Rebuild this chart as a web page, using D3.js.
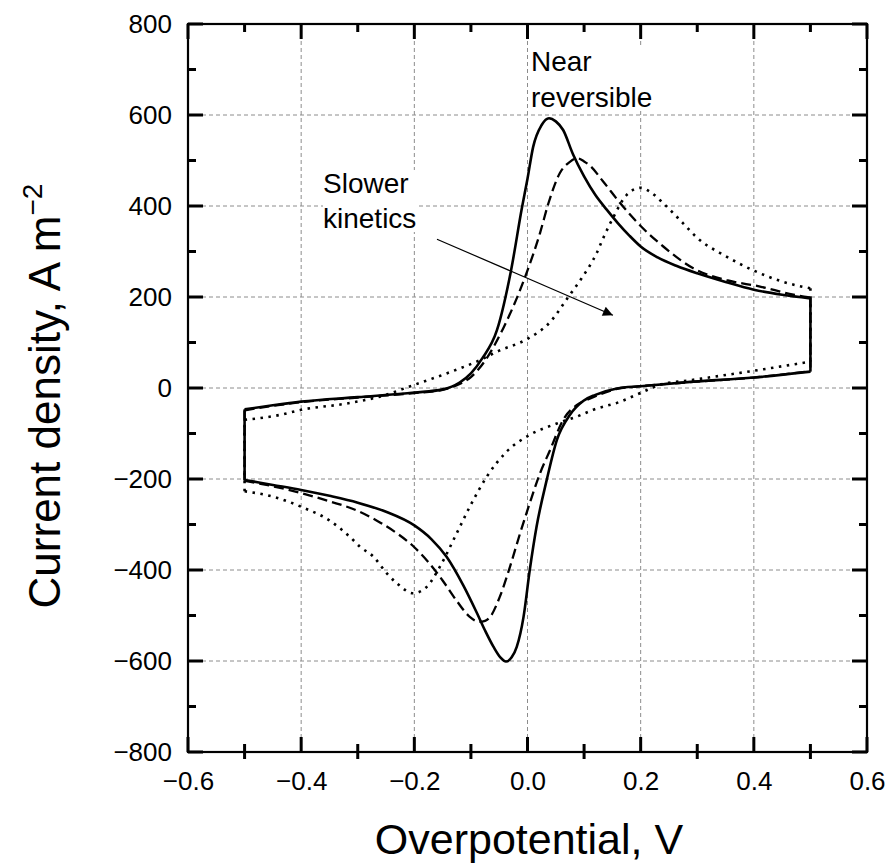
<!DOCTYPE html>
<html>
<head>
<meta charset="utf-8">
<script src="https://cdn.jsdelivr.net/npm/d3@7"></script>
<style>
  html, body { margin: 0; padding: 0; background: #fff; }
  svg { display: block; font-family: "Liberation Sans", Arial, Helvetica, sans-serif; }
</style>
</head>
<body>
<svg id="chart" width="891" height="863"></svg>
<script>
// ---------- data (overpotential V, current density A m^-2) ----------
const xMajorTicks = [-0.6, -0.4, -0.2, 0.0, 0.2, 0.4, 0.6];
const xMinorTicks = [-0.5, -0.3, -0.1, 0.1, 0.3, 0.5];
const yMajorTicks = [-800, -600, -400, -200, 0, 200, 400, 600, 800];
const yMinorTicks = [-700, -500, -300, -100, 100, 300, 500, 700];
const xTickLabels = ["\u22120.6", "\u22120.4", "\u22120.2", "0.0", "0.2", "0.4", "0.6"];
const yTickLabels = ["\u2212800", "\u2212600", "\u2212400", "\u2212200", "0", "200", "400", "600", "800"];
const xGrid = [-0.4, -0.2, 0.0, 0.2, 0.4];
const yGrid = [-600, -400, -200, 0, 200, 400, 600];

// Near reversible (solid)
const solidForward = [[-0.5,-47],[-0.45,-38],[-0.4,-30],[-0.3,-20],[-0.2,-10],[-0.15,-3],[-0.12,12],[-0.1,32],[-0.08,65],
  [-0.054,127],[-0.029,259],[-0.01,395],[0.0,460],[0.01,530],[0.025,578],[0.038,593],[0.05,586],[0.063,567],[0.08,515],
  [0.1,465],[0.12,424],[0.14,392],[0.16,362],[0.18,335],[0.2,311],[0.23,287],[0.264,268],[0.3,252],[0.35,233],
  [0.4,216],[0.45,205],[0.5,197]];
const solidReverse = [[-0.5,-202],[-0.45,-213],[-0.4,-224],[-0.35,-237],[-0.3,-252],[-0.25,-272],[-0.2,-302],
  [-0.17,-332],[-0.143,-371],[-0.113,-435],[-0.09,-493],[-0.075,-533],[-0.06,-569],[-0.048,-592],[-0.038,-601],
  [-0.028,-592],[-0.019,-569],[-0.007,-503],[0.004,-400],[0.016,-305],[0.034,-202],[0.052,-114],[0.075,-59],
  [0.099,-28],[0.12,-15],[0.158,-1],[0.2,4],[0.293,14],[0.4,23],[0.5,36]];
// Intermediate kinetics (dashed)
const dashedForward = [[-0.5,-49],[-0.4,-31],[-0.3,-21],[-0.2,-11],[-0.15,-4],[-0.12,9],[-0.1,24],[-0.075,60],[-0.043,131],
  [-0.004,245],[0.022,340],[0.037,406],[0.057,472],[0.075,497],[0.088,505],[0.1,498],[0.111,488],[0.133,455],[0.164,406],
  [0.2,356],[0.24,311],[0.293,263],[0.352,237],[0.411,223],[0.47,205],[0.5,199]];
const dashedReverse = [[-0.5,-204],[-0.45,-216],[-0.4,-231],[-0.35,-249],[-0.3,-270],[-0.26,-296],[-0.23,-320],
  [-0.2,-350],[-0.175,-383],[-0.15,-423],[-0.125,-468],[-0.102,-503],[-0.085,-514],[-0.075,-512],[-0.066,-503],
  [-0.049,-459],[-0.031,-393],[-0.013,-319],[0.004,-253],[0.022,-188],[0.04,-136],[0.063,-70],[0.09,-35],[0.111,-23],
  [0.158,-2],[0.2,4],[0.3,14],[0.4,23],[0.5,37]];
// Slower kinetics (dotted)
const dottedForward = [[-0.5,-70],[-0.437,-59],[-0.4,-48],[-0.319,-34],[-0.261,-19],[-0.2,7],[-0.143,32],[-0.09,58],
  [-0.05,82],[0.0,108],[0.04,145],[0.072,200],[0.095,240],[0.122,296],[0.134,330],[0.152,376],[0.175,424],[0.2,440],
  [0.217,431],[0.24,406],[0.275,362],[0.3,330],[0.35,290],[0.4,258],[0.45,234],[0.5,219]];
const dottedReverse = [[-0.5,-227],[-0.449,-239],[-0.4,-261],[-0.349,-292],[-0.314,-327],[-0.296,-349],[-0.272,-371],
  [-0.249,-407],[-0.231,-429],[-0.202,-451],[-0.178,-437],[-0.155,-393],[-0.125,-319],[-0.102,-261],[-0.072,-195],
  [-0.037,-140],[0.004,-103],[0.052,-78],[0.087,-63],[0.116,-48],[0.164,-30],[0.205,-8],[0.234,7],[0.293,18],
  [0.411,40],[0.5,58]];

const arrowFrom = [-0.16, 327];
const arrowTo = [0.151, 160];

// ---------- drawing ----------
const svg = d3.select("#chart");
const x = d3.scaleLinear().domain([-0.6, 0.6]).range([188, 867]);
const y = d3.scaleLinear().domain([-800, 800]).range([752, 24]);
const X0 = x(-0.6), X1 = x(0.6), Y0 = y(-800), Y1 = y(800);

// grid
const grid = svg.append("g").attr("stroke", "#8c8c8c").attr("stroke-width", 1).attr("stroke-dasharray", "4,3");
grid.selectAll("line.gx").data(xGrid).join("line").attr("class", "gx")
  .attr("x1", d => x(d)).attr("x2", d => x(d)).attr("y1", Y0).attr("y2", Y1);
grid.selectAll("line.gy").data(yGrid).join("line").attr("class", "gy")
  .attr("y1", d => y(d)).attr("y2", d => y(d)).attr("x1", X0).attr("x2", X1);

// curves
const line = d3.line().x(d => x(d[0])).y(d => y(d[1])).curve(d3.curveMonotoneX);
const straight = d3.line().x(d => x(d[0])).y(d => y(d[1]));
const curves = [
  { f: solidForward, r: solidReverse, w: 2.6, dash: null },
  { f: dashedForward, r: dashedReverse, w: 2.3, dash: "10,5" },
  { f: dottedForward, r: dottedReverse, w: 2.6, dash: "2.5,5.5" }
];
curves.forEach(c => {
  const g = svg.append("g").attr("fill", "none").attr("stroke", "#000").attr("stroke-width", c.w);
  if (c.dash) g.attr("stroke-dasharray", c.dash);
  g.append("path").attr("d", line(c.f));
  g.append("path").attr("d", line(c.r));
  const fl = c.f[c.f.length - 1], rl = c.r[c.r.length - 1];
  g.append("path").attr("d", straight([fl, rl]));
  g.append("path").attr("d", straight([c.r[0], c.f[0]]));
});

// tick labels via d3 axes
function styleAxis(g) {
  g.select(".domain").remove();
  g.selectAll(".tick line").remove();
  g.selectAll(".tick text").attr("fill", "#000").attr("font-size", 26)
    .attr("font-family", "'Liberation Sans', Arial, Helvetica, sans-serif");
}
svg.append("g").attr("transform", `translate(0,${Y0})`)
  .call(d3.axisBottom(x).tickValues(xMajorTicks).tickSize(0).tickPadding(20)
    .tickFormat((d, i) => xTickLabels[i])).call(styleAxis);
svg.append("g").attr("transform", `translate(${X0},0)`)
  .call(d3.axisLeft(y).tickValues(yMajorTicks).tickSize(0).tickPadding(16)
    .tickFormat((d, i) => yTickLabels[i])).call(styleAxis);

// tick marks as one path
let td = "";
xMajorTicks.forEach(v => { const px = x(v);
  td += `M${px},${Y0}V${Y0 - 15}M${px},${Y1}V${Y1 + 15}`; });
xMinorTicks.forEach(v => { const px = x(v);
  td += `M${px},${Y0 - 8}V${Y0 + 7}M${px},${Y1}V${Y1 + 8}`; });
yMajorTicks.forEach(v => { const py = y(v);
  td += `M${X0},${py}H${X0 + 15}M${X1},${py}H${X1 - 15}`; });
yMinorTicks.forEach(v => { const py = y(v);
  td += `M${X0},${py}H${X0 + 8}M${X1},${py}H${X1 - 8}`; });
svg.append("path").attr("d", td).attr("fill", "none").attr("stroke", "#000").attr("stroke-width", 3);

// frame
svg.append("rect").attr("x", X0).attr("y", Y1)
  .attr("width", X1 - X0).attr("height", Y0 - Y1)
  .attr("fill", "none").attr("stroke", "#000").attr("stroke-width", 2.2);

// annotations
function label(lines, x0, y0, lh) {
  const g = svg.append("g");
  const bg = g.append("rect").attr("fill", "#fff");
  const t = g.append("text").attr("font-size", 28).attr("fill", "#000");
  lines.forEach((s, i) => t.append("tspan").attr("x", x0).attr("y", y0 + i * lh).text(s));
  const b = t.node().getBBox();
  bg.attr("x", b.x).attr("y", b.y + 2).attr("width", b.width).attr("height", b.height - 4);
}
label(["Near", "reversible"], 531, 71, 36);
label(["Slower", "kinetics"], 323, 193, 35);

// arrow
svg.append("defs").append("marker").attr("id", "ah").attr("viewBox", "0 0 10 10")
  .attr("refX", 10).attr("refY", 5).attr("markerWidth", 17).attr("markerHeight", 10)
  .attr("markerUnits", "userSpaceOnUse").attr("orient", "auto")
  .append("path").attr("d", "M0,0 L10,5 L0,10 Z").attr("fill", "#000");
svg.append("line").attr("x1", x(arrowFrom[0])).attr("y1", y(arrowFrom[1]))
  .attr("x2", x(arrowTo[0])).attr("y2", y(arrowTo[1]))
  .attr("stroke", "#000").attr("stroke-width", 1.2).attr("marker-end", "url(#ah)");

// axis titles
svg.append("text").attr("x", 529).attr("y", 854).attr("text-anchor", "middle")
  .attr("font-size", 43).attr("fill", "#000").text("Overpotential, V");
const yt = svg.append("text").attr("transform", "translate(60,396) rotate(-90)")
  .attr("text-anchor", "middle").attr("font-size", 44).attr("fill", "#000");
yt.append("tspan").text("Current density, A m");
yt.append("tspan").attr("font-size", 28).attr("dy", -18).text("\u22122");
</script>
</body>
</html>
